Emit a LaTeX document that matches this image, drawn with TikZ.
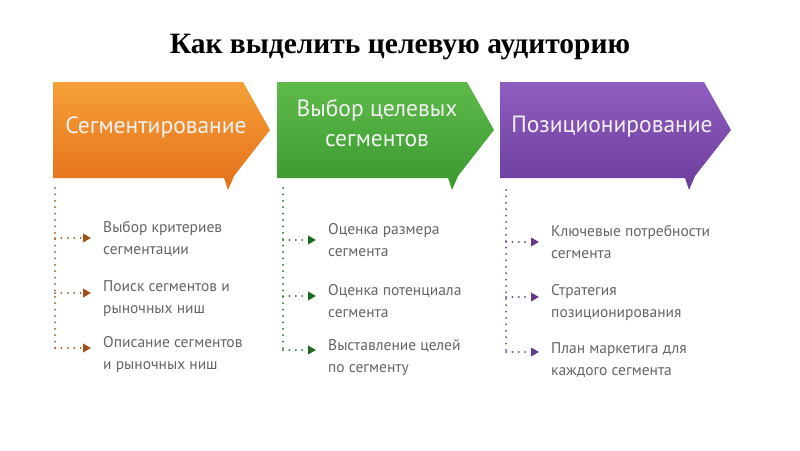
\documentclass[tikz,border=0pt]{standalone}
\usepackage{fontspec}
\setmainfont{Liberation Serif}
\newfontfamily\boxfont{PT Sans}
\usetikzlibrary{arrows.meta,positioning}
\definecolor{segTop}{HTML}{F5A037}
\definecolor{segBot}{HTML}{E5701B}
\definecolor{segDot}{HTML}{A0521D}
\definecolor{tarTop}{HTML}{5EBA4A}
\definecolor{tarBot}{HTML}{3A982F}
\definecolor{tarDot}{HTML}{1F6B22}
\definecolor{posTop}{HTML}{8F5DBF}
\definecolor{posBot}{HTML}{6C3D9E}
\definecolor{posDot}{HTML}{66388C}
\definecolor{itemGray}{HTML}{646464}
% box with an arrow point and a small tail: left x, point x, colour prefix
\newcommand\chevron[3]{%
  \shade[top color=#3Top, bottom color=#3Bot]
    (#1,82) -- (#2-27,82) -- (#2,130) -- (#2-36,176) -- (#2-42,190)
    -- (#2-46,178) -- (#1,178) -- cycle;}
\tikzset{
  head/.style={text=white!95!black, font=\boxfont\fontsize{23.5}{30}\selectfont, align=center},
  item/.style={anchor=west, inner sep=0pt, text=itemGray, align=left,
    font=\boxfont\fontsize{15.5}{22}\selectfont},
  spine/.style={line width=2pt, line cap=round, dash pattern=on 0pt off 6.4pt},
  pointer/.style={spine, -{Triangle[length=8pt,width=8.5pt]}},
}
\begin{document}
\begin{tikzpicture}[x=1pt,y=-1pt]
\useasboundingbox (0,0) rectangle (800,450);

\node[font=\bfseries\fontsize{29.5}{34}\selectfont] (title) at (400,47) {Как выделить целевую аудиторию};

% the three steps
\chevron{53}{270}{seg}
\chevron{277}{494}{tar}
\chevron{500}{731}{pos}
\node[head] (seg) at (156,127) {Сегментирование};
\node[head] (tar) at (377,123) {Выбор целевых\\сегментов};
\node[head] (pos) at (612,127) {Позиционирование};

% segmentation
\node[item] (seg1) at (103,239) {Выбор критериев\\сегментации};
\node[item] (seg2) at (103,299) {Поиск сегментов и\\рыночных ниш};
\node[item] (seg3) at (103,355) {Описание сегментов\\и рыночных ниш};
\coordinate (segA) at (55,188);
\coordinate (seg1s) at (55,238);
\coordinate (seg2s) at (55,293);
\coordinate (seg3s) at (55,348);
\draw[spine, segDot] (segA) -- (seg3s);
\foreach \i in {1,2,3}
  \draw[pointer, segDot] (seg\i s) -- ([xshift=-12pt]seg\i s -| seg\i.west);

% targeting
\node[item] (tar1) at (328,240) {Оценка размера\\сегмента};
\node[item] (tar2) at (328,301) {Оценка потенциала\\сегмента};
\node[item] (tar3) at (328,358) {Выставление целей\\по сегменту};
\coordinate (tarA) at (283,188);
\coordinate (tar1s) at (283,240);
\coordinate (tar2s) at (283,296);
\coordinate (tar3s) at (283,350);
\draw[spine, tarDot] (tarA) -- (tar3s);
\foreach \i in {1,2,3}
  \draw[pointer, tarDot] (tar\i s) -- ([xshift=-12pt]tar\i s -| tar\i.west);

% positioning
\node[item] (pos1) at (551,242) {Ключевые потребности\\сегмента};
\node[item] (pos2) at (551,303) {Стратегия\\позиционирования};
\node[item] (pos3) at (551,360) {План маркетига для\\каждого сегмента};
\coordinate (posA) at (506,190);
\coordinate (pos1s) at (506,242);
\coordinate (pos2s) at (506,297);
\coordinate (pos3s) at (506,352);
\draw[spine, posDot] (posA) -- (pos3s);
\foreach \i in {1,2,3}
  \draw[pointer, posDot] (pos\i s) -- ([xshift=-12pt]pos\i s -| pos\i.west);
\end{tikzpicture}
\end{document}
